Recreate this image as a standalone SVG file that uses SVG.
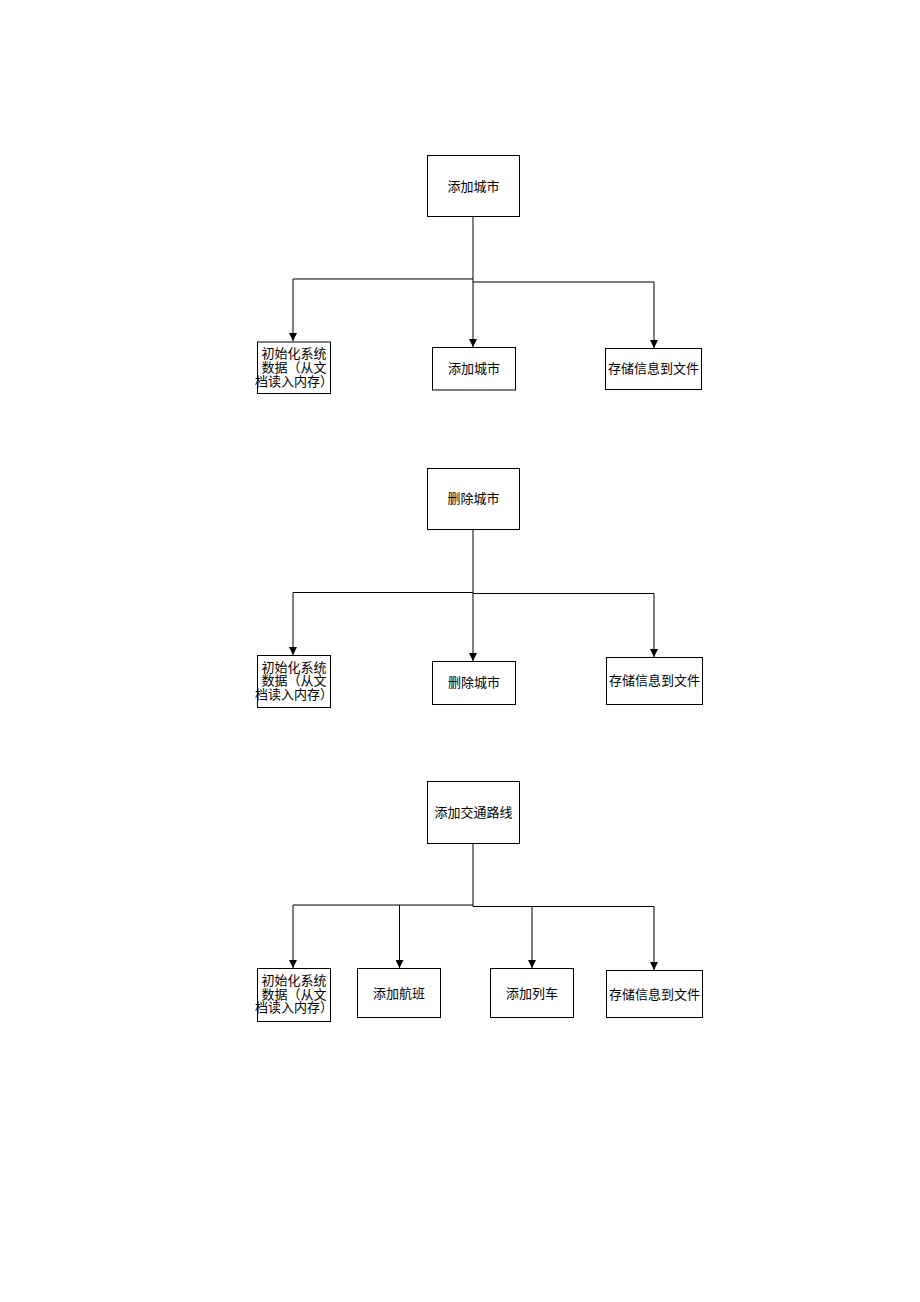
<svg xmlns="http://www.w3.org/2000/svg" width="920" height="1302" viewBox="0 0 920 1302">
<style>
.box{fill:#fff;stroke:#000;stroke-width:1}
.t{font-family:"Liberation Sans","Noto Sans CJK SC",sans-serif;font-size:13px;fill:#000;text-anchor:middle;dominant-baseline:central}
.c{fill:none;stroke:#000;stroke-width:1}
</style>
<defs>
<marker id="ah" markerUnits="userSpaceOnUse" markerWidth="8" markerHeight="9" refX="4" refY="8" orient="0" viewBox="0 0 8 9">
<path d="M0,0 L8,0 L4,8 z" fill="#000"/>
</marker>
</defs>
<rect width="920" height="1302" fill="#fff"/>
<g id="connectors">
<path class="c" d="M473,216 V279 H293 V341" marker-end="url(#ah)"/>
<path class="c" d="M473,279 V347" marker-end="url(#ah)"/>
<path class="c" d="M473,282 H654 V348" marker-end="url(#ah)"/>
<path class="c" d="M473,529 V592.5 H293 V655" marker-end="url(#ah)"/>
<path class="c" d="M473,592.5 V661" marker-end="url(#ah)"/>
<path class="c" d="M473,593.5 H654 V657" marker-end="url(#ah)"/>
<path class="c" d="M473,843 V905 H293 V968" marker-end="url(#ah)"/>
<path class="c" d="M399.5,905 V968" marker-end="url(#ah)"/>
<path class="c" d="M473,905 V906.5 H654 V970" marker-end="url(#ah)"/>
<path class="c" d="M532,906.5 V968" marker-end="url(#ah)"/>
</g>
<g id="n1"><rect class="box" x="427.5" y="155.5" width="92" height="61"/><text class="t" x="473.5" y="186">添加城市</text></g>
<g id="n2"><rect class="box" x="257.5" y="342" width="73" height="51.5"/><text class="t" x="294" y="353.5">初始化系统</text><text class="t" x="294" y="367">数据（从文</text><text class="t" x="294" y="381">档读入内存）</text></g>
<g id="n3"><rect class="box" x="432.5" y="347.5" width="83" height="42.5"/><text class="t" x="474" y="368.5">添加城市</text></g>
<g id="n4"><rect class="box" x="605.5" y="348.5" width="96" height="41"/><text class="t" x="653.5" y="368.5">存储信息到文件</text></g>
<g id="n5"><rect class="box" x="427.5" y="468.5" width="92" height="61"/><text class="t" x="473.5" y="498">删除城市</text></g>
<g id="n6"><rect class="box" x="257.5" y="655.5" width="73" height="52"/><text class="t" x="294" y="667">初始化系统</text><text class="t" x="294" y="680.5">数据（从文</text><text class="t" x="294" y="694">档读入内存）</text></g>
<g id="n7"><rect class="box" x="432.5" y="661.5" width="83" height="43"/><text class="t" x="474" y="682.5">删除城市</text></g>
<g id="n8"><rect class="box" x="606.5" y="657.5" width="96" height="47"/><text class="t" x="654.5" y="680">存储信息到文件</text></g>
<g id="n9"><rect class="box" x="427.5" y="781.5" width="92" height="62"/><text class="t" x="473.5" y="812">添加交通路线</text></g>
<g id="n10"><rect class="box" x="257.5" y="968.5" width="73" height="53"/><text class="t" x="294" y="980.5">初始化系统</text><text class="t" x="294" y="994">数据（从文</text><text class="t" x="294" y="1007.5">档读入内存）</text></g>
<g id="n11"><rect class="box" x="357.5" y="968.5" width="83" height="49"/><text class="t" x="399" y="993">添加航班</text></g>
<g id="n12"><rect class="box" x="490.5" y="968.5" width="83" height="49"/><text class="t" x="532" y="993">添加列车</text></g>
<g id="n13"><rect class="box" x="606.5" y="970.5" width="96" height="47"/><text class="t" x="654.5" y="994">存储信息到文件</text></g>
</svg>
